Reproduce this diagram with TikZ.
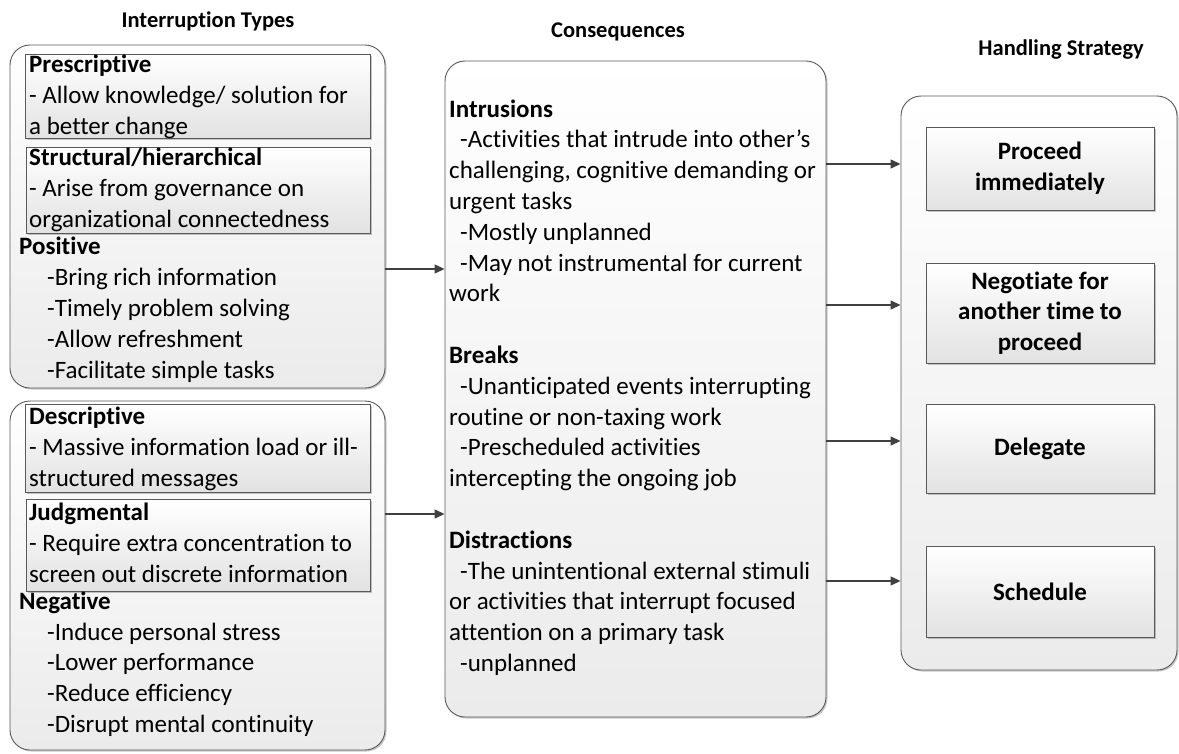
\documentclass[tikz,border=0pt]{standalone}
\usepackage{fontspec}
\setmainfont{Carlito}[Ligatures=NoCommon]
\usetikzlibrary{arrows.meta,shadows}

\definecolor{linegray}{HTML}{595959}
\definecolor{panelbot}{HTML}{EBEBEB}
\definecolor{boxbot}{HTML}{E2E2E2}
\definecolor{arrowgray}{HTML}{404040}

\begin{document}
\begin{tikzpicture}[x=1pt,y=-1pt,
  softshadow/.style={drop shadow={shadow xshift=1.5pt,shadow yshift=-1.5pt,opacity=0.22,fill=black}},
  panel/.style={draw=linegray,line width=0.9pt,rounded corners=20pt,top color=white,bottom color=panelbot,inner sep=0pt,softshadow},
  typebox/.style={draw=linegray,line width=0.9pt,top color=white,bottom color=boxbot,inner sep=0pt,softshadow},
  actbox/.style={typebox,minimum width=228,align=center,font=\fontsize{25}{30.8}\selectfont\bfseries},
  % multi-line text blocks are placed by the baseline of their last line
  txt/.style={anchor=base west,align=left,inner sep=0pt,font=\fontsize{25}{30.8}\selectfont},
  title/.style={anchor=base,inner sep=0pt,font=\fontsize{22.5}{27}\selectfont\bfseries},
  conn/.style={draw=arrowgray,line width=1.3pt,-{Triangle[length=10pt,width=9pt]}}
]
\useasboundingbox (0,0) rectangle (1179,753);

% column headings
\node[title] (tTypes) at (208,27) {Interruption Types};
\node[title] (tCons) at (618,37) {Consequences};
\node[title,anchor=base east] (tStrat) at (1144,55) {Handling Strategy};

% outer panels
\node[panel,minimum width=375,minimum height=343] (pos) at (197.5,216.5) {};
\node[panel,minimum width=375,minimum height=349] (neg) at (197.5,575.5) {};
\node[panel,minimum width=381,minimum height=656] (cons) at (635.5,389) {};
\node[panel,minimum width=276,minimum height=574] (strat) at (1039,383) {};

% interruption type boxes
\node[typebox,minimum width=345,minimum height=84] (presc) at (197.5,96) {};
\node[typebox,minimum width=344,minimum height=86] (struct) at (198,190) {};
\node[typebox,minimum width=345,minimum height=88] (descr) at (197.5,448) {};
\node[typebox,minimum width=344,minimum height=92] (judg) at (198,545) {};

\node[txt] (prescT) at (29,134) {\textbf{Prescriptive}\\- Allow knowledge/ solution for\\a better change};
\node[txt] (structT) at (29,227.5) {\textbf{Structural/hierarchical}\\- Arise from governance on\\organizational connectedness};
\node[txt] (posT) at (19,378) {\textbf{Positive}\\
\hspace*{28pt}-Bring rich information\\
\hspace*{28pt}-Timely problem solving\\
\hspace*{28pt}-Allow refreshment\\
\hspace*{28pt}-Facilitate simple tasks};

\node[txt] (descrT) at (29,486.5) {\textbf{Descriptive}\\- Massive information load or ill-\\structured messages};
\node[txt] (judgT) at (29,582.5) {\textbf{Judgmental}\\- Require extra concentration to\\screen out discrete information};
\node[txt] (negT) at (19,732.5) {\textbf{Negative}\\
\hspace*{28pt}-Induce personal stress\\
\hspace*{28pt}-Lower performance\\
\hspace*{28pt}-Reduce efficiency\\
\hspace*{28pt}-Disrupt mental continuity};

% consequences
\node[txt] (consT) at (449,671.5) {\textbf{Intrusions}\\
\hspace*{11pt}-Activities that intrude into other’s\\
challenging, cognitive demanding or\\
urgent tasks\\
\hspace*{11pt}-Mostly unplanned\\
\hspace*{11pt}-May not instrumental for current\\
work\\
\mbox{}\\
\textbf{Breaks}\\
\hspace*{11pt}-Unanticipated events interrupting\\
routine or non-taxing work\\
\hspace*{11pt}-Prescheduled activities\\
intercepting the ongoing job\\
\mbox{}\\
\textbf{Distractions}\\
\hspace*{11pt}-The unintentional external stimuli\\
or activities that interrupt focused\\
attention on a primary task\\
\hspace*{11pt}-unplanned};

% handling strategies
\node[actbox,minimum height=83] (proceed) at (1040,168.5) {Proceed\\immediately};
\node[actbox,minimum height=100] (negot) at (1040,313) {Negotiate for\\another time to\\proceed};
\node[actbox,minimum height=89] (deleg) at (1040,448.5) {Delegate};
\node[actbox,minimum height=91] (sched) at (1040,591.5) {Schedule};

% connectors
\draw[conn] (pos.east |- 0,269) -- (cons.west |- 0,269);
\draw[conn] (neg.east |- 0,514) -- (cons.west |- 0,514);
\draw[conn] (cons.east |- 0,164) -- (strat.west |- 0,164);
\draw[conn] (cons.east |- 0,305) -- (strat.west |- 0,305);
\draw[conn] (cons.east |- 0,441) -- (strat.west |- 0,441);
\draw[conn] (cons.east |- 0,581) -- (strat.west |- 0,581);
\end{tikzpicture}
\end{document}
